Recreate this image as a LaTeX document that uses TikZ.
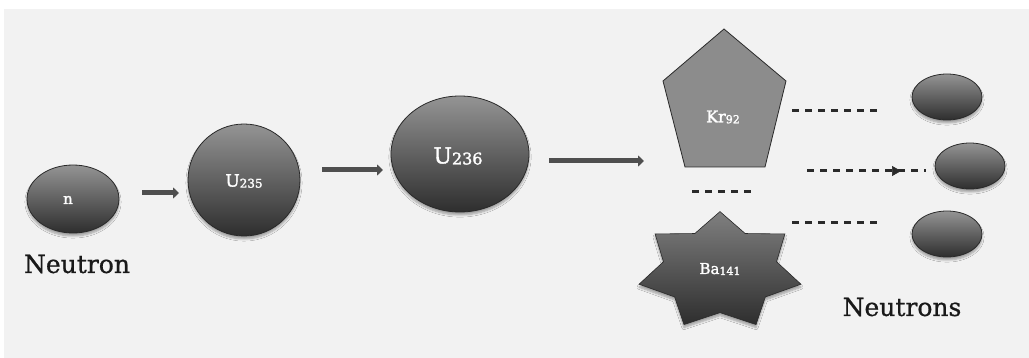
\documentclass[tikz,border=0pt]{standalone}
\usepackage{fontspec}
\setmainfont{DejaVu Serif}
\newfontfamily\capfont[FakeBold=0.8]{DejaVu Serif}
\newfontfamily\labfont[FakeBold=1.8]{DejaVu Serif}
\usetikzlibrary{arrows.meta,shadows.blur,decorations.markings,shapes.geometric}
\definecolor{panel}{HTML}{F2F2F2}
\definecolor{edge}{HTML}{2A2A2A}
\definecolor{shaft}{HTML}{4F4F4F}
\definecolor{flatgrey}{HTML}{8C8C8C}
\tikzset{
  ball/.style={ellipse, draw=edge, line width=0.8pt,
    top color=black!42, bottom color=black!82, text=white,
    blur shadow={shadow xshift=0pt, shadow yshift=-3pt, shadow opacity=35, shadow blur steps=6}},
  flow/.style={draw=shaft, line width=5pt, -{Triangle[length=6pt,width=11pt]}},
  dashline/.style={draw=edge, line width=3pt, dash pattern=on 7pt off 6pt},
  caption/.style={font=\capfont\fontsize{25}{28}\selectfont, text=black!90},
  sym/.style={text=white, inner sep=0pt, font=\labfont}
}
\newcommand{\iso}[4]{{\fontsize{#3}{#3}\selectfont #1}{\fontsize{#4}{#4}\selectfont\raisebox{-1pt}{#2}}}
\begin{document}
\begin{tikzpicture}[x=1pt,y=-1pt]
  \useasboundingbox (0,0) rectangle (1029,358);
  \fill[white] (0,0) rectangle (1029,358);
  \fill[panel] (4,9) rectangle (1029,358);

  % incoming neutron
  \node[ball, minimum width=92pt, minimum height=68pt] (n) at (73,199) {};
  \node[sym, font=\labfont\fontsize{15}{15}\selectfont] (nlab) at (68,200) {n};
  \node[caption] (neutron) at (77,264) {Neutron};

  % uranium nuclei
  \node[ball, circle, minimum size=112pt] (u235) at (244,180) {};
  \node[sym] (u235lab) at (244,181) {\iso{U}{235}{17}{12}};
  \node[ball, minimum width=138pt, minimum height=116pt] (u236) at (460,154) {};
  \node[sym] (u236lab) at (458,156) {\iso{U}{236}{22}{16}};

  % arrows between stages
  \coordinate (a1s) at (142,193); \coordinate (a1e) at (179,193);
  \coordinate (a2s) at (322,170); \coordinate (a2e) at (383,170);
  \coordinate (a3s) at (549,161); \coordinate (a3e) at (644,161);
  \draw[flow] (a1s) -- (a1e);
  \draw[flow] (a2s) -- (a2e);
  \draw[flow] (a3s) -- (a3e);

  % krypton fragment (pentagon)
  \filldraw[fill=flatgrey, draw=edge, line width=0.8pt]
    (724,29) -- (786,81) -- (765,167) -- (685,167) -- (663,81) -- cycle;
  \node[sym] (kr) at (723,117) {\iso{Kr}{92}{16}{11}};

  % barium fragment (seven-point star)
  \shadedraw[top color=black!50, bottom color=black!82, draw=edge, line width=0.6pt,
    blur shadow={shadow xshift=0pt, shadow yshift=-3pt, shadow opacity=35, shadow blur steps=6}]
    (720,211.6)
    \foreach \i in {0,...,6} {
      -- ({720+58*cos(90+(\i+0.5)*360/7)},{271-41.6*sin(90+(\i+0.5)*360/7)})
      -- ({720+83*cos(90+(\i+1)*360/7)},{271-59.4*sin(90+(\i+1)*360/7)})
    } -- cycle;
  \node[sym] (ba) at (720,269) {\iso{Ba}{141}{15}{11}};

  % released neutrons
  \node[ball, minimum width=70pt, minimum height=46pt] (o1) at (947,97) {};
  \node[ball, minimum width=70pt, minimum height=46pt] (o2) at (970,166) {};
  \node[ball, minimum width=70pt, minimum height=46pt] (o3) at (947,234) {};
  \node[caption] (neutrons) at (902,307) {Neutrons};

  % dashed links
  \coordinate (d1s) at (792,111); \coordinate (d1e) at (882,111);
  \coordinate (d2s) at (807,171); \coordinate (d2e) at (926,171);
  \coordinate (d3s) at (692,192); \coordinate (d3e) at (756,192);
  \coordinate (d4s) at (792,223); \coordinate (d4e) at (882,223);
  \draw[dashline] (d1s) -- (d1e);
  \draw[dashline, postaction={decorate, decoration={markings,
      mark=at position 0.79 with {\arrow[edge, line width=0.6pt]{Triangle[length=9pt,width=10pt]}}}}]
    (d2s) -- (d2e);
  \draw[dashline] (d3s) -- (d3e);
  \draw[dashline] (d4s) -- (d4e);
\end{tikzpicture}
\end{document}
